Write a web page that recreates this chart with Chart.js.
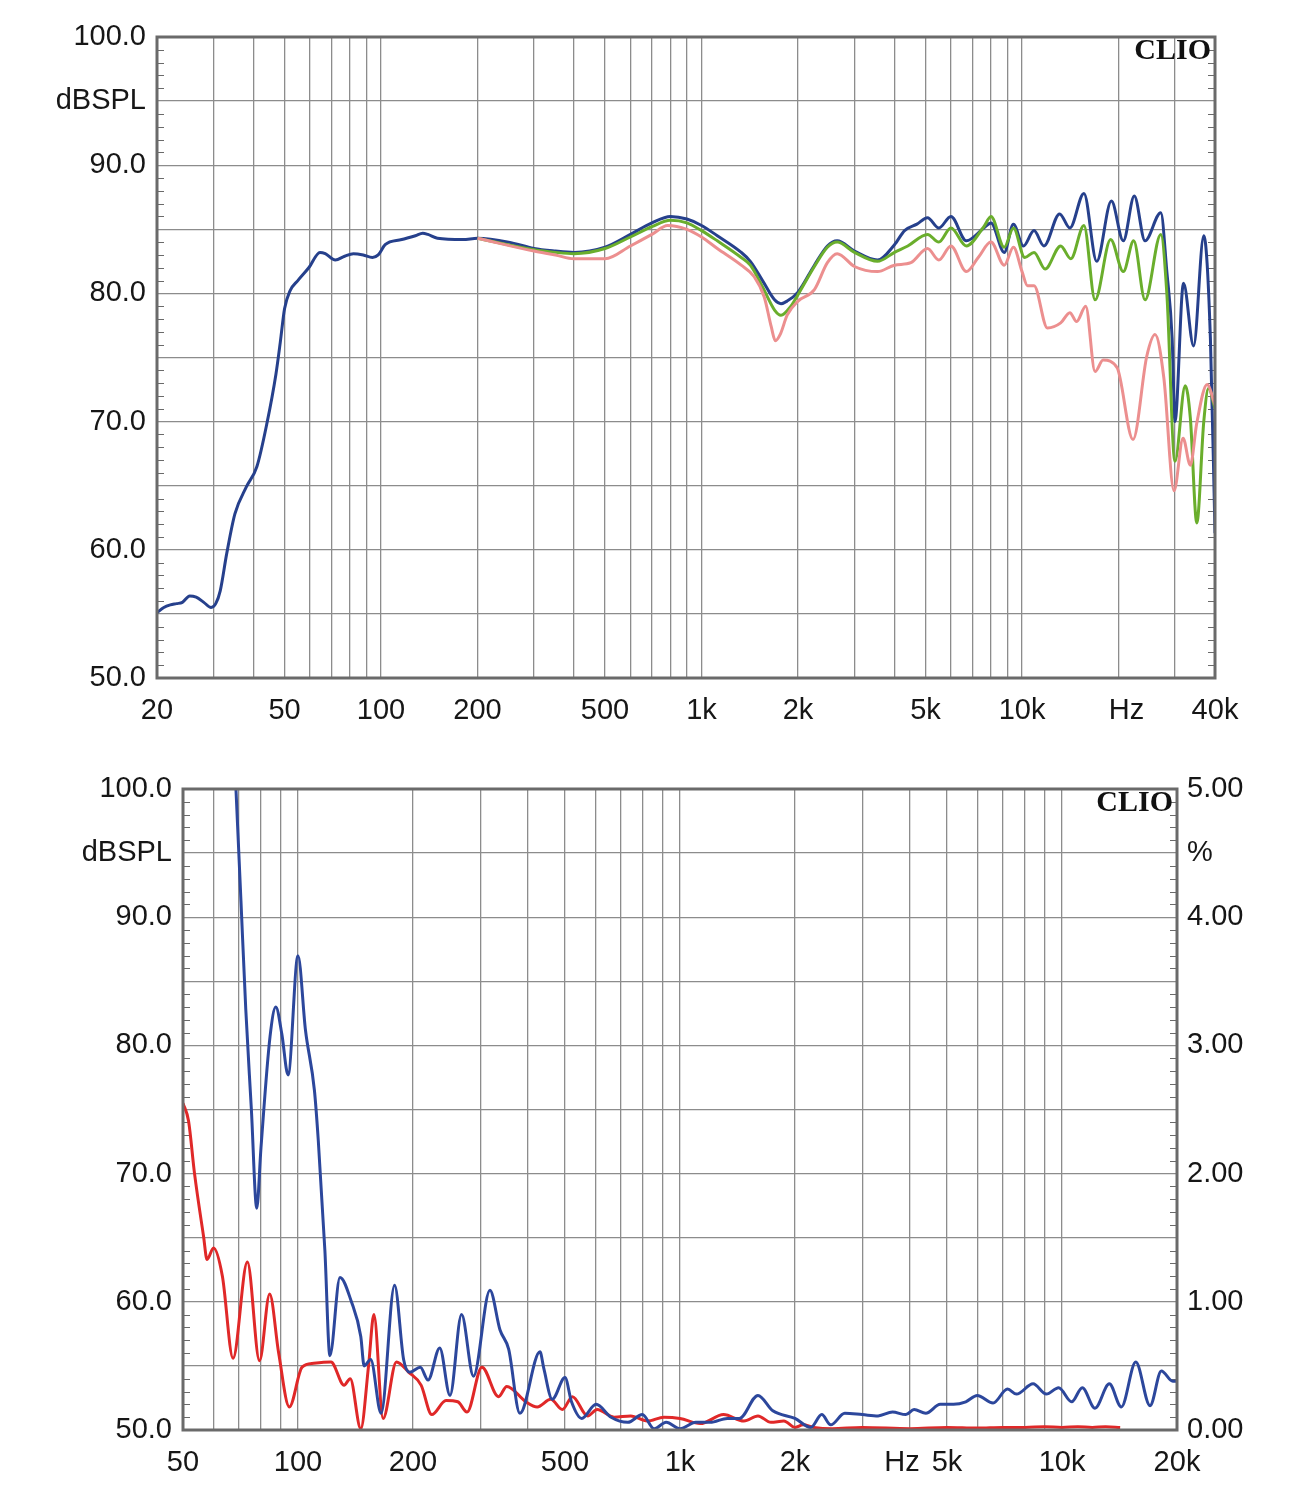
<!DOCTYPE html>
<html><head><meta charset="utf-8">
<script src="https://cdn.jsdelivr.net/npm/chart.js@4.4.1/dist/chart.umd.min.js"></script>
<style>
html,body{margin:0;padding:0;background:#fff;}
#wrap{position:relative;width:1305px;height:1500px;}
canvas{position:absolute;left:0;}
</style></head><body><div id="wrap">
<canvas id="c1" width="1305" height="745" style="top:0px"></canvas>
<canvas id="c2" width="1305" height="755" style="top:745px"></canvas>
</div>
<script>
// ---------- TOP CHART DATA (frequency response, dBSPL) ----------
const topXTicks = [20,30,40,50,60,70,80,90,100,200,300,400,500,600,700,800,900,1000,2000,3000,4000,5000,6000,7000,8000,9000,10000,20000,30000,40000];
const topXLabels = {20:'20',50:'50',100:'100',200:'200',500:'500',1000:'1k',2000:'2k',5000:'5k',10000:'10k',20000:'  Hz',40000:'40k'};

const navyFreq = [20,21,22,23,24,25.3,26.5,28,29.5,30.5,31.5,33,35,38,41,44,47,48.5,50,52,55,59.5,64.5,67,72,77,82,88,94,98,103,116,128,135,140,150,180,200,250,300,350,400,500,600,700,800,900,1000,1120,1330,1420,1550,1690,1770,1850,2000,2250,2470,2650,3000,3540,4000,4300,4700,5070,5500,6000,6700,7600,8000,8800,9400,10100,10900,11700,13100,14100,15600,17100,19000,20700,22400,24200,27100,28300,29400,30000,31900,34300,36900,38700,40000];
const navyDb   = [55.1,55.5,55.7,55.8,55.9,56.4,56.3,55.9,55.5,55.8,56.8,59.7,62.8,64.9,66.5,69.8,73.7,76.2,78.8,80.2,81.0,82.0,83.2,83.1,82.6,82.9,83.1,83.0,82.8,83.0,83.8,84.2,84.5,84.7,84.6,84.3,84.2,84.3,84.0,83.5,83.3,83.2,83.6,84.6,85.5,86.0,85.8,85.3,84.5,83.2,82.5,81.0,79.5,79.2,79.4,80.1,82.2,83.7,84.1,83.3,82.6,83.8,84.9,85.4,85.9,85.1,86.0,84.1,85.1,85.5,83.2,85.4,83.7,84.9,83.7,86.2,85.1,87.8,82.5,87.2,84.1,87.6,84.1,86.3,81.7,76.5,70.0,80.8,75.9,84.5,76.5,61.3];

const greenFreq = [200,300,350,400,500,600,700,800,900,1000,1120,1330,1420,1550,1690,1770,1900,2000,2250,2470,2650,3000,3540,4000,4400,5070,5500,6000,6700,7600,8000,8800,9400,10200,10900,11800,13200,14200,15600,16900,18900,20700,22300,24200,27100,28300,30000,32300,33500,35100,36900,38200,40000];
const greenDb   = [84.3,83.4,83.2,83.1,83.5,84.4,85.2,85.7,85.5,84.9,84.1,82.8,82.2,80.5,78.7,78.3,79.0,79.9,82.1,83.6,84.0,83.2,82.5,83.2,83.7,84.6,84.0,85.1,83.7,85.2,86.0,83.6,85.1,82.8,83.2,81.9,83.7,82.7,85.3,79.5,84.2,81.7,84.1,79.5,84.6,80.0,66.9,72.8,70.3,62.1,70.0,72.6,71.0];

const pinkFreq = [200,300,350,400,500,600,700,784,900,1000,1120,1330,1460,1570,1650,1700,1760,1850,2000,2250,2470,2650,3000,3540,4000,4500,5070,5500,6000,6700,7300,8000,8800,9400,10000,10400,10900,12000,13200,14100,14800,15800,16900,17900,19800,22200,24500,26000,27700,29800,31800,33500,35100,37800,40000];
const pinkDb   = [84.3,83.3,83.0,82.7,82.7,83.7,84.6,85.3,85.0,84.4,83.5,82.2,81.3,79.7,77.4,76.3,76.8,78.3,79.4,80.3,82.4,83.1,82.1,81.7,82.2,82.4,83.5,82.6,83.7,81.7,82.8,84.0,82.2,83.6,81.7,80.6,80.6,77.3,77.7,78.5,77.8,79.0,73.9,74.8,74.2,68.6,75.1,76.8,73.4,64.6,68.7,66.6,69.9,72.9,71.3];

// ---------- BOTTOM CHART DATA (distortion, %) ----------
const botXTicks = [50,60,70,80,90,100,200,300,400,500,600,700,800,900,1000,2000,3000,4000,5000,6000,7000,8000,9000,10000,20000];
const botXLabels = {50:'50',100:'100',200:'200',500:'500',1000:'1k',2000:'2k',4000:'Hz  ',5000:'5k',10000:'10k',20000:'20k'};

const blueFreq = [68.8,70.9,73.0,75.5,78,80,84.5,87.5,90.7,94.2,100,104.6,110.4,113,117.6,121.2,128.8,138,146,149,155,165,179,189,196,209,219,235,250,268,288,318,338,356,381,430,440,463,500,520,553,603,660,730,797,856,920,1000,1100,1200,1330,1430,1600,1750,2000,2200,2350,2480,2700,3000,3300,3600,3900,4100,4400,4800,5200,5600,6000,6600,7200,7600,8400,9100,9800,10600,11300,12200,13300,14300,15600,17000,18200,19500,20000];
const bluePct  = [5.0,4.13,3.28,2.5,1.73,2.2,3.07,3.3,3.09,2.77,3.7,3.12,2.65,2.26,1.4,0.58,1.19,1.0,0.73,0.5,0.55,0.13,1.13,0.55,0.45,0.49,0.39,0.64,0.27,0.9,0.42,1.09,0.78,0.63,0.13,0.61,0.48,0.24,0.41,0.22,0.09,0.2,0.1,0.06,0.12,0.01,0.06,0.01,0.06,0.06,0.09,0.09,0.27,0.15,0.09,0.02,0.12,0.04,0.13,0.12,0.11,0.14,0.12,0.16,0.13,0.2,0.2,0.22,0.27,0.21,0.32,0.28,0.36,0.28,0.33,0.22,0.33,0.17,0.36,0.18,0.53,0.19,0.46,0.38,0.38];

const redFreq = [50,51.7,53.6,56.6,57.8,60.1,63.4,67.6,73.7,79.3,84.3,89,94.9,102.5,110,122,132,137,146,153,158,167,181,195,210,224,244,262,277,303,335,352,395,423,459,492,523,573,607,672,743,821,908,1000,1130,1300,1470,1600,1730,1870,2000,2100,2240,2500,3000,4000,5000,6000,7000,8000,9000,10000,11000,12000,13000,14200];
const redPct  = [2.55,2.41,2.0,1.51,1.33,1.42,1.2,0.56,1.31,0.54,1.06,0.6,0.18,0.49,0.52,0.53,0.35,0.4,0.01,0.5,0.9,0.09,0.53,0.45,0.35,0.12,0.23,0.22,0.14,0.49,0.26,0.34,0.22,0.18,0.24,0.16,0.26,0.11,0.16,0.1,0.11,0.07,0.1,0.09,0.05,0.12,0.07,0.11,0.06,0.07,0.02,0.04,0.02,0.01,0.02,0.01,0.02,0.015,0.02,0.02,0.025,0.02,0.025,0.02,0.025,0.02];

const brandText = 'CLIO';
const unitLeft = 'dBSPL';
const unitRight = '%';

// ---------- helpers ----------
const FONT = '"Liberation Sans", Arial, sans-serif';
const FSIZE = 29;
const TXT = '#161616';
const GRID = '#8c8c8c';
const FRAME = '#6a6a6a';

function pts(fx, fy){ return fx.map((f,i)=>({x:f, y:fy[i]})); }

function framePlugin(minorAxis, minorMin, minorMax, minorStep, majorEvery){
  return {
    id:'frame',
    beforeDatasetsDraw(chart){
      const {ctx, chartArea:a} = chart;
      const ys = chart.scales[minorAxis];
      ctx.save();
      ctx.strokeStyle = FRAME; ctx.lineWidth = 1.2;
      const n = Math.round((minorMax-minorMin)/minorStep);
      for (let i=1;i<n;i++){
        if (i % majorEvery === 0) continue;
        const v = minorMin + i*minorStep;
        const py = Math.round(ys.getPixelForValue(v))+0.5;
        ctx.beginPath();
        ctx.moveTo(a.left, py); ctx.lineTo(a.left+7, py);
        ctx.moveTo(a.right-7, py); ctx.lineTo(a.right, py);
        ctx.stroke();
      }
      ctx.restore();
    },
    afterDraw(chart){
      const {ctx, chartArea:a} = chart;
      ctx.save();
      ctx.strokeStyle = FRAME; ctx.lineWidth = 3;
      ctx.strokeRect(a.left, a.top, a.right-a.left, a.bottom-a.top);
      ctx.font = 'bold 30px "Liberation Serif", "DejaVu Serif", serif';
      ctx.fillStyle = '#111';
      ctx.textAlign = 'right'; ctx.textBaseline = 'middle';
      ctx.fillText(brandText, a.right-4, a.top+14);
      ctx.restore();
    }
  };
}

function xScale(min, max, ticks, labels, height){
  return {
    type:'logarithmic', min, max,
    afterBuildTicks(s){ s.ticks = ticks.map(v=>({value:v})); },
    afterFit(s){ s.height = height; },
    grid:{color:GRID, lineWidth:1.3, drawTicks:false},
    border:{display:false},
    ticks:{autoSkip:false, maxRotation:0, minRotation:0, padding:16, color:TXT,
      font:{family:FONT, size:FSIZE},
      callback(v){ return labels[v] !== undefined ? labels[v] : ''; }}
  };
}

// ---------- TOP CHART ----------
new Chart(document.getElementById('c1'), {
  type:'line',
  data:{datasets:[
    {data:pts(pinkFreq,pinkDb), borderColor:'#ec8f8f', borderWidth:3},
    {data:pts(greenFreq,greenDb), borderColor:'#6aae2c', borderWidth:3},
    {data:pts(navyFreq,navyDb), borderColor:'#26408c', borderWidth:3}
  ]},
  options:{
    responsive:false, animation:false, devicePixelRatio:1,
    elements:{point:{radius:0}, line:{cubicInterpolationMode:'monotone'}},
    layout:{padding:{top:37, right:90, bottom:0, left:0}},
    plugins:{legend:{display:false}, tooltip:{enabled:false}},
    scales:{
      x: xScale(20, 40000, topXTicks, topXLabels, 67),
      y:{type:'linear', min:50, max:100,
        afterFit(s){ s.width = 157; },
        grid:{color:GRID, lineWidth:1.3, drawTicks:false},
        border:{display:false},
        ticks:{stepSize:5, padding:11, color:TXT, font:{family:FONT, size:FSIZE},
          callback(v){ return v%10===0 ? v.toFixed(1) : (v===95 ? unitLeft : ''); }}
      }
    }
  },
  plugins:[framePlugin('y',50,100,1,5)]
});

// ---------- BOTTOM CHART ----------
new Chart(document.getElementById('c2'), {
  type:'line',
  data:{datasets:[
    {data:pts(blueFreq,bluePct), borderColor:'#2c479c', borderWidth:3, yAxisID:'y1'},
    {data:pts(redFreq,redPct), borderColor:'#e02828', borderWidth:3, yAxisID:'y1'}
  ]},
  options:{
    responsive:false, animation:false, devicePixelRatio:1,
    elements:{point:{radius:0}, line:{cubicInterpolationMode:'monotone'}},
    layout:{padding:{top:44, right:0, bottom:0, left:0}},
    plugins:{legend:{display:false}, tooltip:{enabled:false}},
    scales:{
      x: xScale(50, 20000, botXTicks, botXLabels, 70),
      y:{type:'linear', position:'left', min:50, max:100,
        afterFit(s){ s.width = 183; },
        grid:{color:GRID, lineWidth:1.3, drawTicks:false},
        border:{display:false},
        ticks:{stepSize:5, padding:11, color:TXT, font:{family:FONT, size:FSIZE},
          callback(v){ return v%10===0 ? v.toFixed(1) : (v===95 ? unitLeft : ''); }}
      },
      y1:{type:'linear', position:'right', min:0, max:5,
        afterFit(s){ s.width = 128; },
        grid:{drawOnChartArea:false, drawTicks:false},
        border:{display:false},
        ticks:{stepSize:0.5, padding:10, color:TXT, font:{family:FONT, size:FSIZE},
          callback(v){ return Math.abs(v-Math.round(v))<1e-9 ? v.toFixed(2) : (Math.abs(v-4.5)<1e-9 ? unitRight : ''); }}
      }
    }
  },
  plugins:[framePlugin('y',50,100,1,5)]
});
</script>
</body></html>
